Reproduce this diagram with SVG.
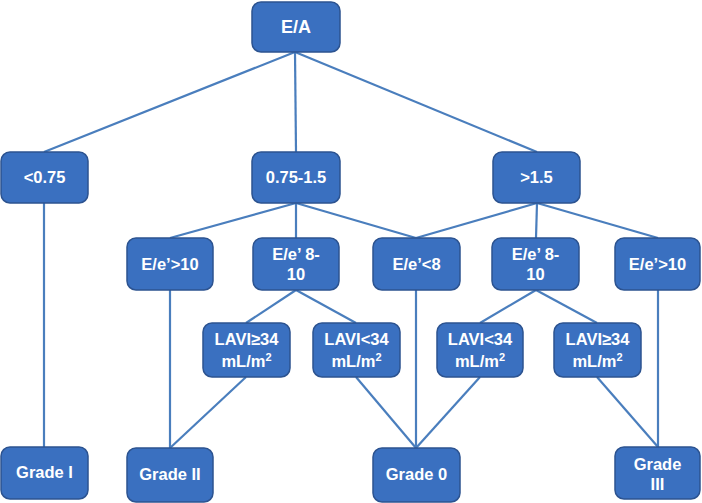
<svg xmlns="http://www.w3.org/2000/svg" width="702" height="503" viewBox="0 0 702 503">
<style>
.n rect{fill:#3a70c0;stroke:#2c5390;stroke-width:1.5}
.n text{fill:#fff;font-family:"Liberation Sans",Arial,sans-serif;font-weight:bold;font-size:16.5px;text-anchor:middle}
#edges line{stroke:#4a7ebd;stroke-width:2.2}
</style>
<rect width="702" height="503" fill="#fff"/>
<g id="edges">
<line x1="295" y1="52" x2="44" y2="152"/>
<line x1="295" y1="52" x2="296" y2="152"/>
<line x1="295" y1="52" x2="537" y2="152"/>
<line x1="44" y1="203" x2="44" y2="447"/>
<line x1="296" y1="203" x2="170" y2="238"/>
<line x1="296" y1="203" x2="296" y2="238"/>
<line x1="296" y1="203" x2="416" y2="238"/>
<line x1="537" y1="203" x2="416" y2="238"/>
<line x1="537" y1="203" x2="536" y2="238"/>
<line x1="537" y1="203" x2="658" y2="238"/>
<line x1="170" y1="290" x2="170" y2="448"/>
<line x1="296" y1="290" x2="246" y2="323"/>
<line x1="296" y1="290" x2="356" y2="323"/>
<line x1="416" y1="290" x2="416" y2="448"/>
<line x1="536" y1="290" x2="480" y2="323"/>
<line x1="536" y1="290" x2="597" y2="323"/>
<line x1="658" y1="290" x2="658" y2="447"/>
<line x1="246" y1="377" x2="170" y2="448"/>
<line x1="356" y1="377" x2="416" y2="448"/>
<line x1="480" y1="377" x2="416" y2="448"/>
<line x1="597" y1="377" x2="658" y2="447"/>
</g>
<g id="ea" class="n"><rect x="252" y="2" width="88" height="50" rx="9"/><text x="296" y="33" style="font-size:18px">E/A</text></g>
<g id="lt075" class="n"><rect x="1" y="152" width="87" height="51" rx="9"/><text x="44.5" y="183">&lt;0.75</text></g>
<g id="mid" class="n"><rect x="252" y="152" width="88" height="51" rx="9"/><text x="296" y="183">0.75-1.5</text></g>
<g id="gt15" class="n"><rect x="493" y="152" width="87" height="51" rx="9"/><text x="536.5" y="183">&gt;1.5</text></g>
<g id="ee10a" class="n"><rect x="127" y="238" width="86" height="52" rx="9"/><text x="170" y="270">E/e’&gt;10</text></g>
<g id="ee810a" class="n"><rect x="253" y="238" width="86" height="52" rx="9"/><text x="296" y="260">E/e’ 8-</text><text x="296" y="280">10</text></g>
<g id="ee8" class="n"><rect x="373" y="238" width="87" height="52" rx="9"/><text x="416.5" y="270">E/e’&lt;8</text></g>
<g id="ee810b" class="n"><rect x="492" y="238" width="87" height="52" rx="9"/><text x="535.5" y="260">E/e’ 8-</text><text x="535.5" y="280">10</text></g>
<g id="ee10b" class="n"><rect x="615" y="238" width="85" height="52" rx="9"/><text x="657.5" y="270">E/e’&gt;10</text></g>
<g id="lavi1" class="n"><rect x="203" y="323" width="87" height="54" rx="9"/><text x="246.5" y="345">LAVI≥34</text><text x="246.5" y="367">mL/m<tspan style="font-size:11px" dy="-6">2</tspan></text></g>
<g id="lavi2" class="n"><rect x="313" y="323" width="87" height="54" rx="9"/><text x="356.5" y="345">LAVI&lt;34</text><text x="356.5" y="367">mL/m<tspan style="font-size:11px" dy="-6">2</tspan></text></g>
<g id="lavi3" class="n"><rect x="437" y="323" width="86" height="54" rx="9"/><text x="480" y="345">LAVI&lt;34</text><text x="480" y="367">mL/m<tspan style="font-size:11px" dy="-6">2</tspan></text></g>
<g id="lavi4" class="n"><rect x="554" y="323" width="87" height="54" rx="9"/><text x="597.5" y="345">LAVI≥34</text><text x="597.5" y="367">mL/m<tspan style="font-size:11px" dy="-6">2</tspan></text></g>
<g id="g1" class="n"><rect x="1" y="447" width="87" height="52" rx="9"/><text x="44.5" y="478">Grade I</text></g>
<g id="g2" class="n"><rect x="127" y="448" width="86" height="54" rx="9"/><text x="170" y="480">Grade II</text></g>
<g id="g0" class="n"><rect x="373" y="448" width="87" height="54" rx="9"/><text x="416.5" y="480">Grade 0</text></g>
<g id="g3" class="n"><rect x="615" y="447" width="85" height="52" rx="9"/><text x="657.5" y="470">Grade</text><text x="657.5" y="490">III</text></g>
</svg>
